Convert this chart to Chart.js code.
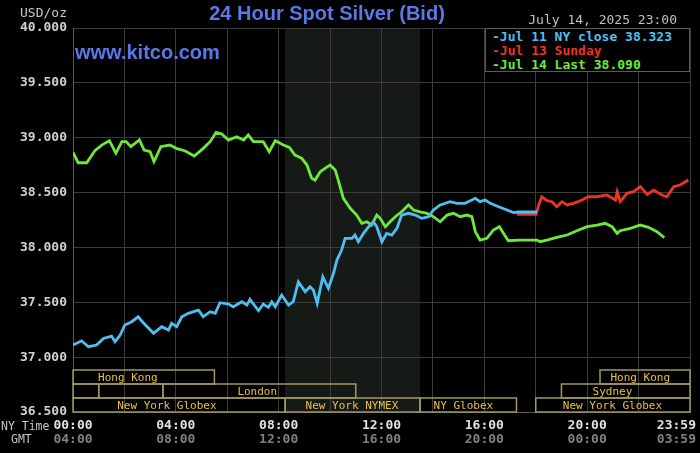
<!DOCTYPE html>
<html lang="en">
<head>
<meta charset="UTF-8">
<title>24 Hour Spot Silver (Bid)</title>
<script src="https://cdn.jsdelivr.net/npm/chart.js"></script>
<style>
  html, body { margin: 0; padding: 0; background: #000; }
  #wrap { position: relative; width: 700px; height: 453px; overflow: hidden; background: #000; }
  #chart { position: absolute; left: 0; top: 0; }
  .txt { position: absolute; white-space: nowrap; }
  #title { left: 0; width: 654px; top: 2px; line-height: 26px; text-align: center;
           font: bold 20px "Liberation Sans", Arial, sans-serif; color: #5a78e8; }
  #site { left: 75px; top: 41px; line-height: 26px; font: bold 20px "Liberation Sans", Arial, sans-serif; color: #5a78e8; }
  #unit { right: 633px; top: 5px; line-height: 16px; font: 13px "DejaVu Sans Mono", monospace; color: #c8c8c8; }
  #stamp { right: 23px; top: 12px; line-height: 16px; font: 13px "DejaVu Sans Mono", monospace; color: #c0c0c0; }
  #legend { position: absolute; left: 485px; top: 28px; width: 205px; height: 44px; box-sizing: border-box;
            border: 1px solid #5a5a5a; background: #000; padding: 1px 0 0 6px;
            font: bold 13px "DejaVu Sans Mono", monospace; line-height: 14px; }
</style>
</head>
<body>
<div id="wrap">
  <canvas id="chart" width="700" height="453"></canvas>
  <div class="txt" id="title">24 Hour Spot Silver (Bid)</div>
  <div class="txt" id="site">www.kitco.com</div>
  <div class="txt" id="unit">USD/oz</div>
  <div class="txt" id="stamp">July 14, 2025 23:00</div>
  <div id="legend"></div>
</div>
<script>
// minutes after 00:00 NY time, prices in USD/oz
const fridayTimes = [0,20,36,55,71,90,98,110,121,137,152,164,188,207,223,230,242,254,269,293,
  304,320,332,343,363,374,394,406,413,433,444,456,464,472,487,503,514,526,542,553,
  561,570,583,596,608,616,627,635,651,658,666,678,690,701,709,721,732,744,756,767,
  783,799,814,830,841,857,880,896,915,939,950,962,974,993,1013,1028,1040,1083];
const fridayPrices = [37.110,37.149,37.095,37.110,37.171,37.192,37.140,37.201,37.293,37.323,
  37.368,37.314,37.217,37.277,37.247,37.308,37.277,37.368,37.399,37.429,
  37.368,37.414,37.399,37.496,37.484,37.459,37.505,37.475,37.527,37.423,
  37.484,37.454,37.505,37.459,37.566,37.475,37.505,37.687,37.596,37.642,
  37.612,37.490,37.733,37.627,37.764,37.885,37.976,38.083,38.083,38.113,
  38.052,38.128,38.189,38.234,38.189,38.052,38.128,38.113,38.174,38.295,
  38.311,38.295,38.265,38.280,38.341,38.387,38.417,38.402,38.402,38.448,
  38.417,38.432,38.402,38.371,38.341,38.317,38.323,38.323];

const sundayTimes = [1036,1081,1087,1094,1106,1118,1129,1141,1153,1168,1184,1203,1223,1246,
  1266,1270,1277,1293,1308,1324,1340,1355,1375,1386,1402,1417,1436];
const sundayPrices = [38.302,38.302,38.387,38.462,38.426,38.417,38.371,38.417,38.387,38.402,
  38.426,38.462,38.462,38.478,38.432,38.508,38.417,38.493,38.508,38.554,
  38.484,38.523,38.478,38.462,38.554,38.569,38.614];

const mondayTimes = [0,12,32,51,67,85,100,114,124,135,155,166,180,189,205,226,241,262,283,304,
  320,334,347,363,382,398,409,421,444,458,472,491,505,518,534,546,557,565,577,588,
  600,612,619,631,647,662,674,686,697,709,717,729,740,752,767,783,795,810,826,841,
  857,873,888,904,919,931,939,950,966,981,995,1005,1016,1040,1083,1090,1106,1129,1153,1176,
  1200,1223,1242,1258,1270,1277,1301,1324,1343,1363,1380];
const mondayPrices = [38.867,38.772,38.772,38.882,38.933,38.973,38.858,38.964,38.964,38.918,
  38.979,38.888,38.873,38.781,38.918,38.933,38.903,38.879,38.833,38.903,
  38.964,39.049,39.034,38.979,39.009,38.979,39.025,38.964,38.964,38.873,
  38.973,38.933,38.912,38.842,38.812,38.751,38.630,38.614,38.690,38.721,
  38.751,38.706,38.614,38.448,38.357,38.295,38.220,38.234,38.204,38.295,
  38.265,38.189,38.234,38.280,38.325,38.387,38.341,38.325,38.311,38.280,
  38.234,38.295,38.311,38.280,38.295,38.280,38.143,38.067,38.083,38.159,
  38.189,38.128,38.061,38.067,38.067,38.052,38.067,38.092,38.113,38.152,
  38.189,38.204,38.220,38.189,38.128,38.152,38.174,38.204,38.183,38.143,
  38.090];

const seriesNames = ['Jul 11 NY close 38.323', 'Jul 13 Sunday', 'Jul 14 Last 38.090'];
const seriesColors = ['#50bef0', '#ee3322', '#6ee83c'];

const nyTimeLabels = ['00:00','04:00','08:00','12:00','16:00','20:00','23:59'];
const gmtTimeLabels = ['04:00','08:00','12:00','16:00','20:00','00:00','03:59'];
const labelTimes = [0, 240, 480, 720, 960, 1200, 1439];

// trading sessions: row 0 = top strip
const sessionNames   = ['Hong Kong','Hong Kong','','','London','Sydney','New York Globex','New York NYMEX','NY Globex','New York Globex'];
const sessionRows    = [0, 0, 1, 1, 1, 1, 2, 2, 2, 2];
const sessionStarts  = [0, 1230, 0, 60, 210, 1140, 0, 495, 810, 1080];
const sessionEnds    = [330, 1440, 60, 210, 660, 1440, 495, 810, 1035, 1440];
const sessionLabelAt = [128, 1324, null, null, 430, 1259, 219, 651, 911, 1259];
const nymexShade = [495, 810];

const legend = document.getElementById('legend');
seriesNames.forEach((name, i) => {
  const row = document.createElement('div');
  row.textContent = '-' + name;
  row.style.color = seriesColors[i];
  legend.appendChild(row);
});

function toPoints(times, prices) {
  return times.map((t, i) => ({ x: t, y: prices[i] }));
}

const mono = '"DejaVu Sans Mono", monospace';

const frame = {
  id: 'frame',
  beforeDraw(chart) {
    const { ctx, chartArea: a, scales: { x } } = chart;
    ctx.save();
    ctx.fillStyle = '#000';
    ctx.fillRect(0, 0, chart.width, chart.height);
    const x0 = x.getPixelForValue(nymexShade[0]);
    const x1 = x.getPixelForValue(nymexShade[1]);
    ctx.fillStyle = '#161a16';
    ctx.fillRect(x0, a.top, x1 - x0, a.bottom - a.top);
    ctx.restore();
  },
  afterDraw(chart) {
    const { ctx, chartArea: a, scales: { x } } = chart;
    const rowH = 14;
    ctx.save();
    // session strips
    ctx.lineWidth = 1.5;
    ctx.strokeStyle = '#a09860';
    ctx.fillStyle = '#e8c040';
    ctx.font = '11px ' + mono;
    ctx.textAlign = 'center';
    ctx.textBaseline = 'middle';
    sessionNames.forEach((name, i) => {
      const top = a.bottom - (3 - sessionRows[i]) * rowH;
      const left = x.getPixelForValue(sessionStarts[i]);
      const right = x.getPixelForValue(sessionEnds[i]);
      ctx.strokeRect(left, top, right - left, rowH);
      if (name) ctx.fillText(name, x.getPixelForValue(sessionLabelAt[i]), top + rowH / 2 + 1);
    });
    // time labels
    ctx.font = 'bold 13px ' + mono;
    labelTimes.forEach((t, i) => {
      const last = i === labelTimes.length - 1;
      const px = last ? a.right + 6 : x.getPixelForValue(t);
      ctx.textAlign = last ? 'right' : 'center';
      ctx.fillStyle = '#e0e0e0';
      ctx.fillText(nyTimeLabels[i], px, 426);
      ctx.fillStyle = '#808080';
      ctx.fillText(gmtTimeLabels[i], px, 440);
    });
    ctx.font = '11.5px ' + mono;
    ctx.textAlign = 'left';
    ctx.fillStyle = '#c8c8c8';
    ctx.fillText('NY Time', 1, 427);
    ctx.fillText('GMT', 11, 440);
    ctx.restore();
  }
};

new Chart(document.getElementById('chart').getContext('2d'), {
  type: 'line',
  data: {
    datasets: [
      { label: seriesNames[0], data: toPoints(fridayTimes, fridayPrices), borderColor: seriesColors[0] },
      { label: seriesNames[1], data: toPoints(sundayTimes, sundayPrices), borderColor: seriesColors[1] },
      { label: seriesNames[2], data: toPoints(mondayTimes, mondayPrices), borderColor: seriesColors[2] }
    ]
  },
  options: {
    responsive: false,
    animation: false,
    parsing: false,
    elements: {
      line: { borderWidth: 2.8, tension: 0 },
      point: { radius: 0 }
    },
    layout: { padding: { top: 28, right: 10, left: 0, bottom: 0 } },
    plugins: {
      legend: { display: false },
      title: { display: false },
      tooltip: { enabled: false }
    },
    scales: {
      x: {
        type: 'linear',
        min: 0,
        max: 1440,
        ticks: { stepSize: 120, display: false },
        grid: { color: '#3c3c3c', drawTicks: false },
        border: { color: '#5a5a5a' },
        afterFit: s => { s.height = 41; }
      },
      y: {
        min: 36.5,
        max: 40,
        ticks: {
          stepSize: 0.5,
          padding: 6,
          color: '#d0d0d0',
          font: { family: mono, size: 13, weight: 'bold' },
          callback: v => v.toFixed(3)
        },
        grid: { color: '#3c3c3c', drawTicks: false },
        border: { color: '#5a5a5a' },
        afterFit: s => { s.width = 73; }
      }
    }
  },
  plugins: [frame]
});
</script>
</body>
</html>
